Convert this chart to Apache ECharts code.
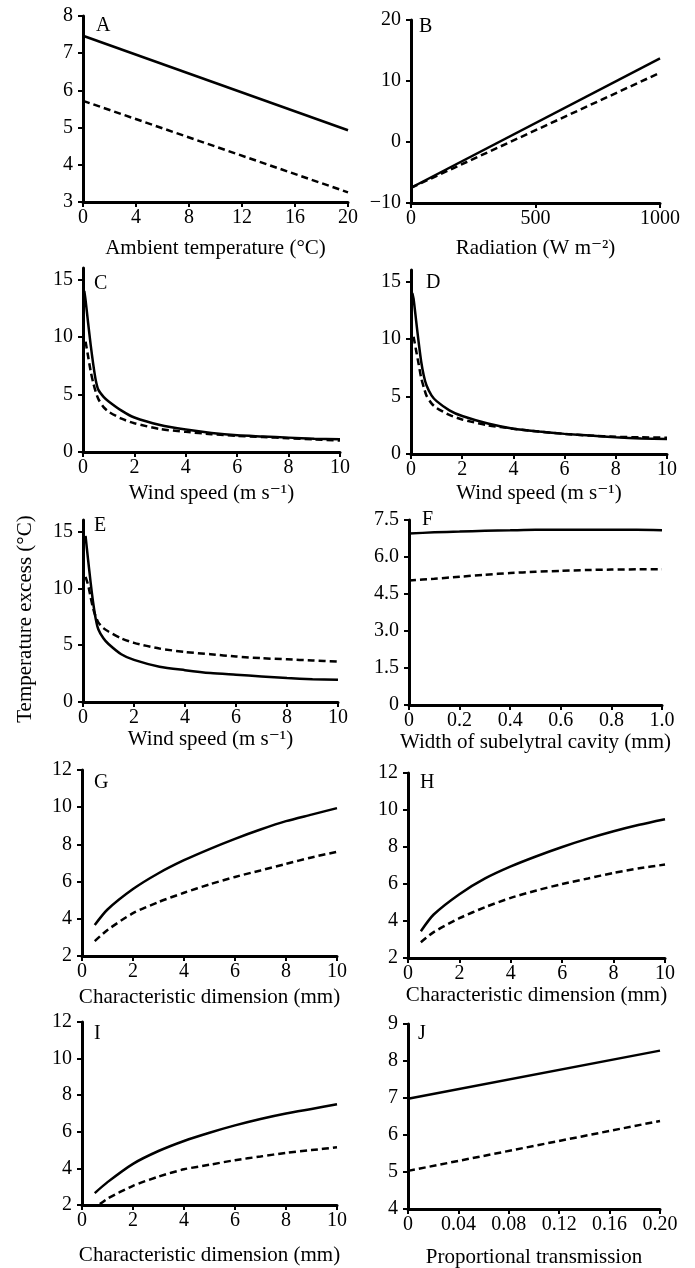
<!DOCTYPE html>
<html>
<head>
<meta charset="utf-8">
<script src="https://cdn.jsdelivr.net/npm/echarts@6/dist/echarts.min.js"></script>
<style>
  html, body { margin: 0; padding: 0; background: #fff; }
  #chart { width: 695px; height: 1268px; }
</style>
</head>
<body>
<div id="chart"></div>
<script>
// Panel A: ambient temperature
const xA = [0, 20];
const aSolid = [7.47, 4.93];
const aDashed = [5.72, 3.26];

// Panel B: radiation
const xB = [0, 1000];
const bSolid = [-7.5, 13.7];
const bDashed = [-7.5, 11.35];

// Panels C-E: wind speed
const xWind = [0.05, 0.1, 0.2, 0.3, 0.4, 0.5, 0.6, 0.8, 1, 1.5, 2, 3, 4, 5, 6, 7, 8, 9, 10];
const cSolid = [14.0, 13.2, 11.2, 9.3, 7.6, 6.2, 5.4, 4.8, 4.4, 3.6, 3.0, 2.35, 1.95, 1.65, 1.45, 1.35, 1.25, 1.15, 1.1];
const cDashed = [null, 9.6, 8.3, 7.0, 6.0, 5.2, 4.6, 3.9, 3.5, 2.9, 2.5, 2.0, 1.75, 1.55, 1.4, 1.3, 1.2, 1.1, 1.0];
const dSolid = [14.0, 13.5, 11.6, 9.7, 8.0, 6.8, 6.0, 5.1, 4.6, 3.8, 3.3, 2.65, 2.2, 1.95, 1.75, 1.6, 1.45, 1.35, 1.3];
const dDashed = [null, 10.2, 9.0, 7.8, 6.6, 5.8, 5.1, 4.4, 4.0, 3.4, 3.0, 2.5, 2.2, 1.95, 1.75, 1.6, 1.5, 1.45, 1.42];
const eSolid = [null, 14.6, 12.5, 10.5, 8.7, 7.3, 6.4, 5.6, 5.1, 4.2, 3.7, 3.1, 2.8, 2.55, 2.4, 2.25, 2.1, 2.0, 1.95];
const eDashed = [null, 11.0, 10.3, 9.2, 8.2, 7.5, 7.0, 6.5, 6.2, 5.6, 5.2, 4.7, 4.4, 4.2, 4.0, 3.85, 3.75, 3.65, 3.55];

// Panel F: width of subelytral cavity
const xF = [0, 0.1, 0.2, 0.3, 0.4, 0.5, 0.6, 0.7, 0.8, 0.9, 1.0];
const fSolid = [6.95, 7.0, 7.03, 7.06, 7.08, 7.1, 7.1, 7.1, 7.1, 7.1, 7.08];
const fDashed = [5.05, 5.12, 5.2, 5.28, 5.35, 5.4, 5.44, 5.47, 5.49, 5.5, 5.5];

// Panels G-I: characteristic dimension
const xDim = [0.5, 1, 2, 3, 4, 5, 6, 7, 8, 9, 10];
const gSolid = [3.67, 4.5, 5.6, 6.45, 7.15, 7.75, 8.3, 8.8, 9.25, 9.6, 9.95];
const gDashed = [2.8, 3.4, 4.3, 4.9, 5.4, 5.85, 6.25, 6.6, 6.95, 7.3, 7.6];
const hSolid = [3.45, 4.35, 5.45, 6.3, 6.95, 7.5, 8.0, 8.45, 8.85, 9.2, 9.5];
const hDashed = [2.85, 3.4, 4.15, 4.75, 5.25, 5.65, 6.0, 6.3, 6.6, 6.85, 7.05];
const iSolid = [2.65, 3.25, 4.25, 4.95, 5.5, 5.95, 6.35, 6.7, 7.0, 7.25, 7.5];
const xIDashed = [0.7, 1, 2, 3, 4, 5, 6, 7, 8, 9, 10];
const iDashed = [2.05, 2.35, 3.05, 3.55, 3.95, 4.2, 4.45, 4.65, 4.85, 5.0, 5.15];

// Panel J: proportional transmission
const xJ = [0, 0.2];
const jSolid = [6.98, 8.28];
const jDashed = [5.03, 6.38];

const FONT = '"Liberation Serif", "DejaVu Serif", serif';
const INK = '#000';

function pairs(xs, ys) {
  const out = [];
  xs.forEach((x, i) => { if (ys[i] != null) out.push([x, ys[i]]); });
  return out;
}

const plain = v => String(v);
const fixed1 = v => (v === 0 ? '0' : v.toFixed(1));
const fixed2 = v => (v === 0 ? '0' : v.toFixed(2));
const minus = v => String(v).replace('-', '\u2212');

// layout of each panel
const panels = [
  { letter: 'A', grid: [83, 16, 265, 186], x: [0, 20, 4], y: [3, 8, 1], xName: 'Ambient temperature (°C)', gap: 36,
    solid: pairs(xA, aSolid), dashed: pairs(xA, aDashed), letterPos: [96, 16] },
  { letter: 'B', grid: [411, 20, 249, 183], x: [0, 1000, 500], y: [-10, 20, 10], xName: 'Radiation (W m\u207B\u00B2)', gap: 35, yFmt: minus,
    solid: pairs(xB, bSolid), dashed: pairs(xB, bDashed), letterPos: [419, 17] },
  { letter: 'C', grid: [83, 268, 257, 184], x: [0, 10, 2], y: [0, 16, 5], yCustom: [0, 5, 10, 15], xName: 'Wind speed (m s\u207B\u00B9)', gap: 31,
    solid: pairs(xWind, cSolid), dashed: pairs(xWind, cDashed), letterPos: [94, 274], smooth: true },
  { letter: 'D', grid: [411, 270, 256, 184], x: [0, 10, 2], y: [0, 16, 5], yCustom: [0, 5, 10, 15], xName: 'Wind speed (m s\u207B\u00B9)', gap: 29,
    solid: pairs(xWind, dSolid), dashed: pairs(xWind, dDashed), letterPos: [426, 273], smooth: true },
  { letter: 'E', grid: [83, 520, 255, 182], x: [0, 10, 2], y: [0, 16, 5], yCustom: [0, 5, 10, 15], xName: 'Wind speed (m s\u207B\u00B9)', gap: 26,
    solid: pairs(xWind, eSolid), dashed: pairs(xWind, eDashed), letterPos: [94, 516], smooth: true,
    yName: 'Temperature excess (°C)' },
  { letter: 'F', grid: [409, 520, 253, 185], x: [0, 1, 0.2], y: [0, 7.5, 1.5], xFmt: fixed1, yFmt: fixed1, xName: 'Width of subelytral cavity (mm)', gap: 21,
    solid: pairs(xF, fSolid), dashed: pairs(xF, fDashed), letterPos: [422, 510], smooth: true },
  { letter: 'G', grid: [82, 770, 255, 186], x: [0, 10, 2], y: [2, 12, 2], xName: 'Characteristic dimension (mm)', gap: 31,
    solid: pairs(xDim, gSolid), dashed: pairs(xDim, gDashed), letterPos: [94, 773], smooth: true },
  { letter: 'H', grid: [408, 773, 257, 185], x: [0, 10, 2], y: [2, 12, 2], xName: 'Characteristic dimension (mm)', gap: 27,
    solid: pairs(xDim, hSolid), dashed: pairs(xDim, hDashed), letterPos: [420, 773], smooth: true },
  { letter: 'I', grid: [82, 1022, 255, 183], x: [0, 10, 2], y: [2, 12, 2], xName: 'Characteristic dimension (mm)', gap: 40,
    solid: pairs(xDim, iSolid), dashed: pairs(xIDashed, iDashed), letterPos: [94, 1024], smooth: true },
  { letter: 'J', grid: [408, 1024, 252, 185], x: [0, 0.2, 0.04], y: [4, 9, 1], xFmt: fixed2, xName: 'Proportional transmission', gap: 38,
    solid: pairs(xJ, jSolid), dashed: pairs(xJ, jDashed), letterPos: [418, 1024] }
];

const axisLine = { show: true, onZero: false, lineStyle: { color: INK, width: 3 } };
const axisTick = { show: true, length: 5, lineStyle: { color: INK, width: 2 } };
const labelStyle = { color: INK, fontFamily: FONT, fontSize: 20 };

const option = {
  animation: false,
  backgroundColor: '#fff',
  title: [],
  grid: [],
  xAxis: [],
  yAxis: [],
  series: []
};

panels.forEach((p, i) => {
  const [left, top, width, height] = p.grid;
  option.grid.push({ left, top, width, height, containLabel: false, outerBoundsMode: 'none' });
  option.title.push({
    text: p.letter, left: p.letterPos[0], top: p.letterPos[1], padding: 0,
    textStyle: { fontFamily: FONT, fontSize: 20, fontWeight: 'normal', color: INK }
  });
  option.xAxis.push({
    type: 'value', gridIndex: i, min: p.x[0], max: p.x[1], interval: p.x[2],
    name: p.xName, nameLocation: 'middle', nameGap: p.gap,
    nameTextStyle: { color: INK, fontFamily: FONT, fontSize: 21 },
    axisLine, axisTick, splitLine: { show: false },
    axisLabel: Object.assign({}, labelStyle, { margin: 6, formatter: p.xFmt || plain })
  });
  const yLabel = Object.assign({}, labelStyle, { margin: 10, formatter: p.yFmt || plain });
  const yTick = Object.assign({}, axisTick);
  if (p.yCustom) {
    yLabel.customValues = p.yCustom;
    yTick.customValues = p.yCustom;
  }
  const yAxis = {
    type: 'value', gridIndex: i, min: p.y[0], max: p.y[1], interval: p.y[2],
    axisLine, axisTick: yTick, splitLine: { show: false }, axisLabel: yLabel
  };
  if (p.yName) {
    // right padding nudges the rotated title down to sit like the original
    Object.assign(yAxis, {
      name: p.yName, nameLocation: 'middle', nameGap: 47, nameRotate: 90,
      nameTextStyle: { color: INK, fontFamily: FONT, fontSize: 21, padding: [0, 16, 0, 0] }
    });
  }
  option.yAxis.push(yAxis);

  const common = {
    type: 'line', xAxisIndex: i, yAxisIndex: i, symbol: 'none', silent: true,
    smooth: p.smooth ? 0.25 : false
  };
  option.series.push(Object.assign({}, common, {
    data: p.solid, lineStyle: { color: INK, width: 2.5, type: 'solid' }
  }));
  option.series.push(Object.assign({}, common, {
    data: p.dashed, lineStyle: { color: INK, width: 2.5, type: [7, 4] }
  }));
});

const chart = echarts.init(document.getElementById('chart'), null, { renderer: 'canvas' });
chart.setOption(option);
</script>
</body>
</html>
